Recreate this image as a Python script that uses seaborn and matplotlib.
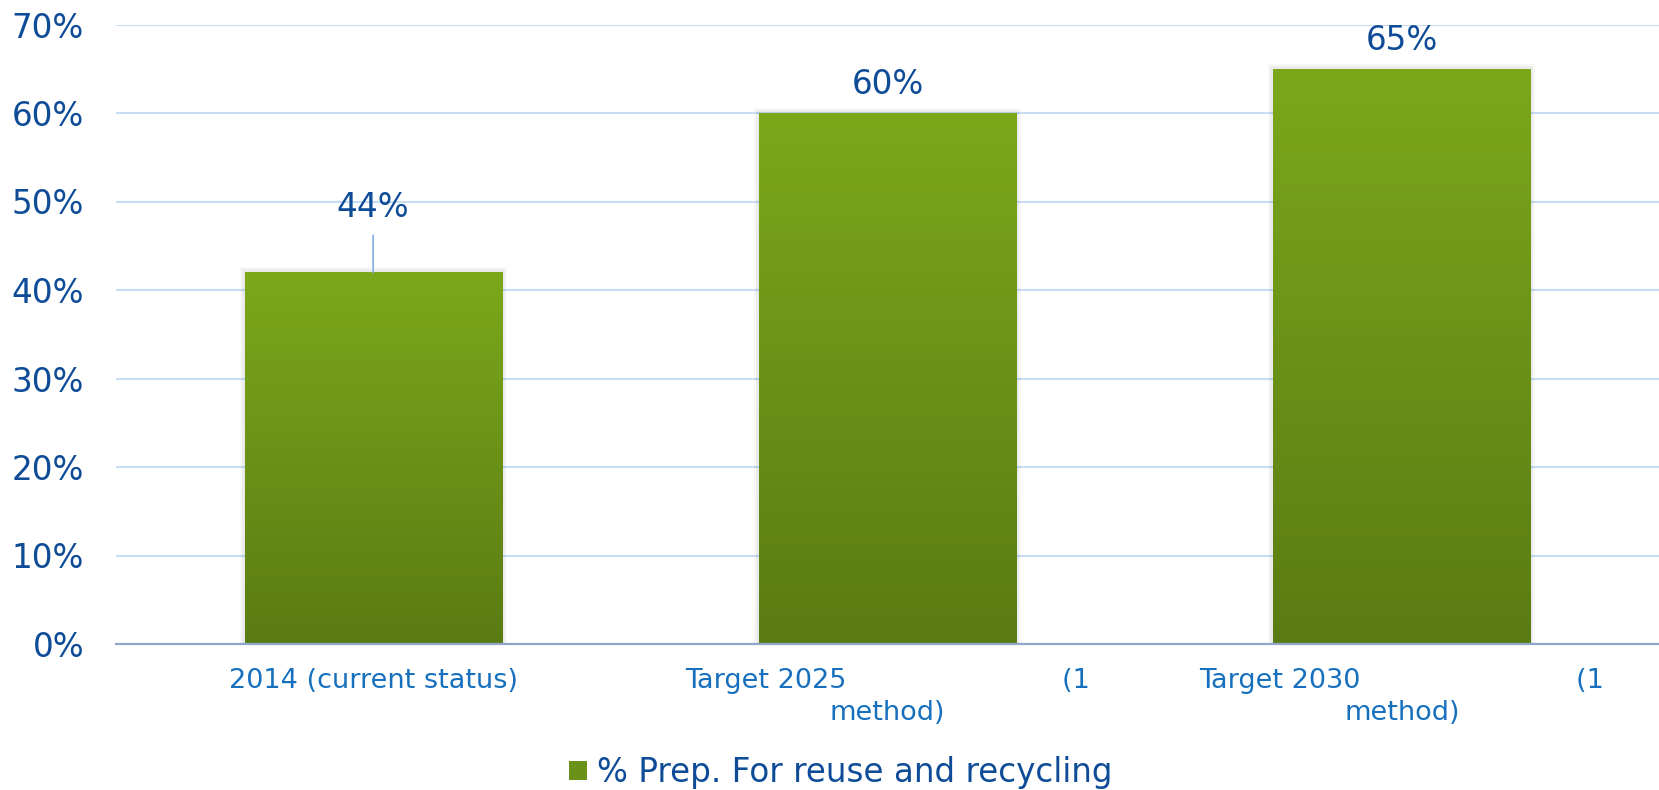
import numpy as np
import pandas as pd
import matplotlib
matplotlib.use("Agg")
import matplotlib.pyplot as plt
import matplotlib.patheffects as pe
from matplotlib.colors import LinearSegmentedColormap
from matplotlib.patches import Patch
import seaborn as sns

# ---- data ----
categories = [
    "2014 (current status)",
    "Target 2025" + " " * 25 + "(1\nmethod)",
    "Target 2030" + " " * 25 + "(1\nmethod)",
]
values = [0.42, 0.60, 0.65]
value_labels = ["44%", "60%", "65%"]
series_name = "% Prep. For reuse and recycling"
y_ticks = [0, 0.1, 0.2, 0.3, 0.4, 0.5, 0.6, 0.7]
y_tick_labels = ["0%", "10%", "20%", "30%", "40%", "50%", "60%", "70%"]

# ---- style ----
label_offsets_pt = [47.0, 20.5, 20.5]
leader_line = [True, False, False]
TOP_GREEN = "#7BA81B"
BOTTOM_GREEN = "#5A7B13"
DARK_BLUE = "#0E4C98"
TICK_BLUE = "#1670BE"
GRID = "#C9DEF5"

sns.set_style("white")
plt.rcParams["font.family"] = ["DejaVu Sans"]

fig = plt.figure(figsize=(16.59, 7.90), dpi=100)
ax = fig.add_axes([116 / 1659, 146 / 790, 1543 / 1659, 619.5 / 790])

df = pd.DataFrame({"cat": categories, "val": values})
sns.barplot(data=df, x="cat", y="val", color=TOP_GREEN, width=0.5, ax=ax,
            saturation=1, zorder=2)

ax.set_xlim(-0.5, 2.5)
ax.set_ylim(0, 0.7)
ax.set_yticks(y_ticks)
ax.set_yticklabels(y_tick_labels)
ax.set_xlabel("")
ax.set_ylabel("")

for s in ["top", "right", "left"]:
    ax.spines[s].set_visible(False)
ax.spines["bottom"].set_color("#8FA5CA")
ax.spines["bottom"].set_linewidth(1.6)
ax.spines["bottom"].set_zorder(5)

ax.yaxis.grid(True, color=GRID, linewidth=1.5, zorder=0)
ax.set_axisbelow(True)
ax.tick_params(axis="y", length=0, pad=23, labelsize=23.5, labelcolor=DARK_BLUE)
ax.tick_params(axis="x", length=0, pad=17.5, labelsize=19.5, labelcolor=TICK_BLUE)
for t in ax.get_xticklabels():
    t.set_linespacing(1.27)

# gradient fill clipped to each bar
cmap = LinearSegmentedColormap.from_list("g", [BOTTOM_GREEN, TOP_GREEN])
grad = np.linspace(0, 1, 256).reshape(-1, 1)
for p in ax.patches:
    p.set_edgecolor("none")
    p.set_path_effects([
        pe.Stroke(linewidth=7, foreground="#000000", alpha=0.03),
        pe.Stroke(linewidth=4, foreground="#000000", alpha=0.05),
        pe.Normal(),
    ])
    x0, y0 = p.get_x(), p.get_y()
    w, h = p.get_width(), p.get_height()
    im = ax.imshow(grad, cmap=cmap, origin="lower", aspect="auto",
                   extent=[x0, x0 + w, y0, y0 + h], zorder=3)
    im.set_clip_path(p)

ax.set_xlim(-0.5, 2.5)
ax.set_ylim(0, 0.7)

# data labels
for i, p in enumerate(ax.patches):
    xc = p.get_x() + p.get_width() / 2
    top = p.get_height()
    kw = {}
    if leader_line[i]:
        kw["arrowprops"] = dict(arrowstyle="-", color="#7FB2EA", lw=1.2,
                                shrinkA=6, shrinkB=0)
    ax.annotate(value_labels[i], xy=(xc, top), xytext=(0, label_offsets_pt[i]),
                textcoords="offset points", ha="center", va="center",
                fontsize=23.5, color=DARK_BLUE, zorder=6, **kw)

# legend
handle = Patch(facecolor="#6A9218", edgecolor="none", label=series_name)
fig.legend(handles=[handle], loc="center", bbox_to_anchor=(0.507, 0.022),
           frameon=False, fontsize=23.5, handlelength=0.55, handleheight=0.55,
           handletextpad=0.3, labelcolor=DARK_BLUE, borderpad=0)

fig.savefig("out.png", dpi=100)
